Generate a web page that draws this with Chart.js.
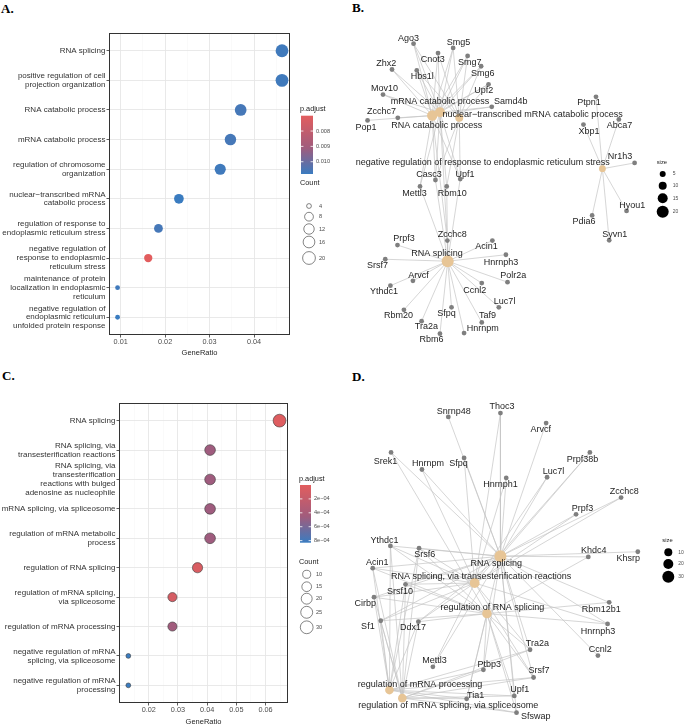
<!DOCTYPE html>
<html><head><meta charset="utf-8">
<script src="https://cdn.jsdelivr.net/npm/chart.js@4.4.1/dist/chart.umd.min.js"></script>
<style>
html,body{margin:0;padding:0;background:#fff}
body{width:685px;height:728px;position:relative;overflow:hidden}
canvas{position:absolute;display:block}
.tag{position:absolute;font:bold 13px "Liberation Serif","DejaVu Serif",serif;color:#000;line-height:13px}
</style></head><body>
<div class="tag" style="left:1px;top:2px">A.</div>
<div class="tag" style="left:352px;top:1px">B.</div>
<div class="tag" style="left:2px;top:369px">C.</div>
<div class="tag" style="left:352px;top:370px">D.</div>
<canvas id="cA" width="340" height="360" style="left:0;top:0"></canvas>
<canvas id="cB" width="345" height="360" style="left:340px;top:0"></canvas>
<canvas id="cC" width="340" height="368" style="left:0;top:360px"></canvas>
<canvas id="cD" width="345" height="368" style="left:340px;top:360px"></canvas>
<script>
// ---------------- Panel A data ----------------
const termsA = [["RNA splicing"],["positive regulation of cell","projection organization"],["RNA catabolic process"],["mRNA catabolic process"],["regulation of chromosome","organization"],["nuclear\u2212transcribed mRNA","catabolic process"],["regulation of response to","endoplasmic reticulum stress"],["negative regulation of","response to endoplasmic","reticulum stress"],["maintenance of protein","localization in endoplasmic","reticulum"],["negative regulation of","endoplasmic reticulum","unfolded protein response"]];
const ratioA = [0.0463,0.0463,0.0370,0.0347,0.0324,0.0231,0.0185,0.0162,0.0093,0.0093];
const countA = [20,20,16,15,14,10,8,7,4,4];
const padjA = [0.0107,0.0107,0.0106,0.0106,0.0107,0.0108,0.0106,0.0070,0.0107,0.0108];
const xTicksA = [0.01,0.02,0.03,0.04];
const xTickLabelsA = ["0.01","0.02","0.03","0.04"];
const padjTicksA = [0.008,0.009,0.010];
const padjTickLabelsA = ["0.008","0.009","0.010"];
const countTicksA = [4,8,12,16,20];

// ---------------- Panel C data ----------------
const termsC = [["RNA splicing"],["RNA splicing, via","transesterification reactions"],["RNA splicing, via","transesterification","reactions with bulged","adenosine as nucleophile"],["mRNA splicing, via spliceosome"],["regulation of mRNA metabolic","process"],["regulation of RNA splicing"],["regulation of mRNA splicing,","via spliceosome"],["regulation of mRNA processing"],["negative regulation of mRNA","splicing, via spliceosome"],["negative regulation of mRNA","processing"]];
const ratioC = [0.0648,0.0410,0.0410,0.0410,0.0410,0.0367,0.0281,0.0281,0.0130,0.0130];
const countC = [30,19,19,19,19,17,13,13,6,6];
const padjC = [0.00003,0.00046,0.00046,0.00046,0.00046,0.00006,0.00009,0.00045,0.00083,0.00083];
const xTicksC = [0.02,0.03,0.04,0.05,0.06];
const xTickLabelsC = ["0.02","0.03","0.04","0.05","0.06"];
const padjTicksC = [0.0002,0.0004,0.0006,0.0008];
const padjTickLabelsC = ["2e\u221204","4e\u221204","6e\u221204","8e\u221204"];
const countTicksC = [10,15,20,25,30];

// ---------------- Panel B network (layout units) ----------------
const geneB = ["Ago3","Cnot3","Smg5","Smg7","Smg6","Zhx2","Hbs1l","Mov10","Upf2","Samd4b","Zcchc7","Pop1","Casc3","Upf1","Mettl3","Rbm10","Ptpn1","Xbp1","Abca7","Nr1h3","Hyou1","Pdia6","Syvn1","Zcchc8","Prpf3","Acin1","Hnrnph3","Srsf7","Polr2a","Arvcf","Ccnl2","Ythdc1","Luc7l","Rbm20","Sfpq","Taf9","Tra2a","Hnrnpm","Rbm6"];
const geneBX = [210,286,333,378,420,143,220,115,443,453,161,67,278,355,230,313,777,738,848,897,872,765,818,315,160,455,497,122,502,208,422,138,475,180,328,422,235,367,292];
const geneBY = [117,146,130,155,187,197,200,275,243,313,347,355,540,537,560,560,282,368,352,487,636,650,727,728,742,728,772,786,857,853,860,868,935,943,935,982,978,1015,1017];
const geneBLabelX = [194,270,350,385,425,125,237,120,428,512,110,62,258,370,213,330,755,755,850,852,890,740,835,330,180,437,482,98,520,225,400,118,493,163,312,440,250,425,266];
const geneBLabelY = [100,166,112,176,209,180,218,256,262,297,329,378,522,522,581,581,298,388,372,468,618,668,710,708,722,746,795,806,837,836,882,887,918,962,955,962,996,1002,1035];
const catB = ["RNA catabolic process","mRNA catabolic process","nuclear\u2212transcribed mRNA catabolic process","negative regulation of response to endoplasmic reticulum stress","RNA splicing"];
const catBCount = [16,15,10,7,20];
const catBX = [268,292,352,797,316];
const catBY = [340,330,347,505,792];
const catBLabelX = [282,292,580,425,283];
const catBLabelY = [370,297,336,487,768];
const membersB = [
 ["Ago3","Cnot3","Smg5","Smg7","Smg6","Zhx2","Hbs1l","Mov10","Upf2","Samd4b","Zcchc7","Pop1","Casc3","Upf1","Mettl3","Zcchc8"],
 ["Ago3","Cnot3","Smg5","Smg7","Smg6","Zhx2","Hbs1l","Mov10","Upf2","Samd4b","Casc3","Upf1","Mettl3","Rbm10","Zcchc8"],
 ["Ago3","Cnot3","Smg5","Smg7","Smg6","Hbs1l","Upf2","Casc3","Upf1","Rbm10"],
 ["Ptpn1","Xbp1","Abca7","Nr1h3","Hyou1","Pdia6","Syvn1"],
 ["Zcchc8","Prpf3","Acin1","Hnrnph3","Srsf7","Polr2a","Arvcf","Ccnl2","Ythdc1","Luc7l","Rbm20","Sfpq","Taf9","Tra2a","Hnrnpm","Rbm6","Casc3","Mettl3","Rbm10","Upf1"]
];
const sizeTicksB = [5,10,15,20];

// ---------------- Panel D network (layout units) ----------------
const geneD = ["Snrnp48","Thoc3","Arvcf","Srek1","Hnrnpm","Sfpq","Prpf38b","Luc7l","Hnrnph1","Zcchc8","Prpf3","Ythdc1","Srsf6","Khdc4","Khsrp","Acin1","Srsf10","Cirbp","Rbm12b1","Sf1","Ddx17","Hnrnph3","Tra2a","Ccnl2","Mettl3","Ptbp3","Srsf7","Upf1","Tia1","Sfswap"];
const geneDX = [318,480,622,140,236,367,758,625,498,855,715,138,227,753,907,83,185,87,818,108,225,813,572,783,270,427,583,523,375,530];
const geneDY = [158,146,177,268,321,285,268,345,347,408,460,558,565,592,576,627,677,717,733,790,793,800,880,898,933,942,966,1023,1032,1075];
const geneDLabelX = [335,485,605,123,255,350,735,645,480,865,735,120,245,770,877,97,168,60,793,68,208,783,595,790,275,445,600,540,403,590];
const geneDLabelY = [140,125,197,297,303,303,290,327,367,390,443,541,586,572,597,608,698,738,756,809,810,822,862,880,913,926,944,1003,1023,1088];
const catD = ["RNA splicing","RNA splicing, via transesterification reactions","regulation of RNA splicing","regulation of mRNA processing","regulation of mRNA splicing, via spliceosome"];
const catDCount = [30,19,17,13,13];
const catDX = [480,400,438,135,175];
const catDY = [590,673,768,1005,1030];
const catDLabelX = [467,420,455,230,318];
const catDLabelY = [612,654,748,987,1053];
const membersD = [
 ["Snrnp48","Thoc3","Arvcf","Srek1","Hnrnpm","Sfpq","Prpf38b","Luc7l","Hnrnph1","Zcchc8","Prpf3","Ythdc1","Srsf6","Khdc4","Khsrp","Acin1","Srsf10","Cirbp","Rbm12b1","Sf1","Ddx17","Hnrnph3","Tra2a","Ccnl2","Mettl3","Ptbp3","Srsf7","Upf1","Tia1","Sfswap"],
 ["Thoc3","Hnrnpm","Sfpq","Prpf38b","Luc7l","Hnrnph1","Zcchc8","Prpf3","Ythdc1","Srsf6","Acin1","Srsf10","Sf1","Ddx17","Hnrnph3","Tra2a","Srsf7","Mettl3","Cirbp"],
 ["Srek1","Ythdc1","Srsf6","Acin1","Srsf10","Cirbp","Rbm12b1","Sf1","Ddx17","Hnrnph3","Tra2a","Ptbp3","Srsf7","Upf1","Tia1","Sfswap","Khdc4"],
 ["Ythdc1","Srsf6","Acin1","Srsf10","Cirbp","Sf1","Ddx17","Tra2a","Ptbp3","Srsf7","Upf1","Tia1","Sfswap"],
 ["Ythdc1","Srsf6","Acin1","Srsf10","Cirbp","Sf1","Ddx17","Tra2a","Ptbp3","Srsf7","Upf1","Tia1","Sfswap"]
];
const sizeTicksD = [10,20,30];

// ---------------- helpers ----------------
const FONT = '"Liberation Sans", Arial, sans-serif';
const RAMP = [[0,[226,93,94]],[0.55,[160,92,125]],[1,[58,124,192]]];
function ramp(t){
  t = Math.max(0, Math.min(1, t));
  for (let i = 1; i < RAMP.length; i++) {
    if (t <= RAMP[i][0]) {
      const a = RAMP[i-1], b = RAMP[i];
      const f = (t - a[0]) / (b[0] - a[0]);
      const c = a[1].map((v,k) => Math.round(v + (b[1][k]-v)*f));
      return `rgb(${c[0]},${c[1]},${c[2]})`;
    }
  }
  return 'rgb(58,124,192)';
}

function makeDot(id, o){
  const n = o.terms.length;
  const cMin = Math.min(...o.counts), cMax = Math.max(...o.counts);
  const rOf = c => (4.8 + 8 * Math.sqrt(Math.max(0,(c - cMin)/(cMax - cMin)))) / 2;
  const colOf = p => ramp((p - o.pMin)/(o.pMax - o.pMin));
  const step = o.xTicks[1] - o.xTicks[0];
  const allTicks = [];
  for (let k = -4; k <= 2*o.xTicks.length + 4; k++) {
    const v = o.xTicks[0] + k*step/2;
    if (v > o.xMin && v < o.xMax) {
      const mi = (k % 2 === 0) ? o.xTicks.findIndex(t => Math.abs(t - v) < 1e-9) : -1;
      allTicks.push({value: v, minor: mi < 0, lab: mi >= 0 ? o.xTickLabels[mi] : ''});
    }
  }
  const legendPlugin = {
    id: 'dotDeco',
    afterDraw(chart){
      const ctx = chart.ctx, a = chart.chartArea, L = o.legend;
      ctx.save();
      ctx.strokeStyle = '#333'; ctx.lineWidth = 1;
      ctx.strokeRect(Math.round(a.left)+0.5, Math.round(a.top)+0.5, Math.round(a.right-a.left)-1, Math.round(a.bottom-a.top)-1);
      // colour bar
      ctx.fillStyle = '#1a1a1a'; ctx.textAlign = 'left'; ctx.textBaseline = 'middle';
      ctx.font = `7.3px ${FONT}`;
      ctx.fillText('p.adjust', L.barX - 1, L.barY - 6.5);
      const g = ctx.createLinearGradient(0, L.barY, 0, L.barY + L.barH);
      for (let s = 0; s <= 20; s++) g.addColorStop(s/20, ramp(s/20));
      ctx.fillStyle = g; ctx.fillRect(L.barX, L.barY, L.barW, L.barH);
      ctx.font = `5.6px ${FONT}`;
      o.pTicks.forEach((p, i) => {
        const y = L.barY + (p - o.pMin)/(o.pMax - o.pMin) * L.barH;
        ctx.strokeStyle = '#fff'; ctx.lineWidth = 0.8;
        ctx.beginPath(); ctx.moveTo(L.barX, y); ctx.lineTo(L.barX + 2.4, y);
        ctx.moveTo(L.barX + L.barW - 2.4, y); ctx.lineTo(L.barX + L.barW, y); ctx.stroke();
        ctx.fillStyle = '#4d4d4d'; ctx.fillText(o.pTickLabels[i], L.barX + L.barW + 3, y);
      });
      // count legend
      ctx.fillStyle = '#1a1a1a'; ctx.font = `7.3px ${FONT}`;
      ctx.fillText('Count', L.barX - 1, L.countY);
      ctx.font = `5.6px ${FONT}`;
      o.countTicks.forEach((c, i) => {
        const y = L.circY[i];
        ctx.beginPath(); ctx.arc(L.circX, y, rOf(c), 0, Math.PI*2);
        ctx.fillStyle = '#fff'; ctx.fill();
        ctx.strokeStyle = '#333'; ctx.lineWidth = 0.6; ctx.stroke();
        ctx.fillStyle = '#4d4d4d'; ctx.fillText(String(c), L.labX, y);
      });
      ctx.restore();
    }
  };
  return new Chart(document.getElementById(id), {
    type: 'scatter',
    data: { datasets: [{
      data: o.ratios.map((r,i) => ({x: r, y: i+1})),
      pointRadius: c => rOf(o.counts[c.dataIndex]),
      pointHoverRadius: c => rOf(o.counts[c.dataIndex]),
      backgroundColor: c => colOf(o.padj[c.dataIndex]),
      borderColor: o.outline ? '#3a3a3a' : (c => colOf(o.padj[c.dataIndex])),
      borderWidth: o.outline ? 0.6 : 0,
      clip: false
    }]},
    options: {
      responsive: false, animation: false, devicePixelRatio: 1,
      layout: { padding: { top: o.area.top, right: o.area.right, left: 0, bottom: 0 } },
      plugins: { legend: {display:false}, tooltip: {enabled:false} },
      events: [],
      scales: {
        x: {
          type: 'linear', min: o.xMin, max: o.xMax,
          afterBuildTicks: s => { s.ticks = allTicks.map(t => ({value: t.value, minor: t.minor})); },
          afterFit: s => { s.height = o.area.xh; },
          ticks: { autoSkip:false, maxRotation:0, padding: 0.5, color:'#4d4d4d', font:{size:7.3, family:FONT},
                   callback: (v, i) => allTicks[i] ? allTicks[i].lab : '' },
          grid: { color: c => (c.tick && c.tick.minor) ? '#f4f4f4' : '#e6e6e6',
                  lineWidth: c => (c.tick && c.tick.minor) ? 0.5 : 0.9,
                  tickLength: 2.5,
                  tickColor: c => (c.tick && c.tick.minor) ? 'rgba(0,0,0,0)' : '#333', tickWidth: 0.8 },
          border: { display: false },
          title: { display: true, text: 'GeneRatio', color:'#262626', font:{size:7.5, family:FONT, lineHeight:1.2}, padding:{top:0, bottom:o.area.titlePad} }
        },
        y: {
          type: 'linear', reverse: true, min: 0.4, max: n + 0.6,
          afterBuildTicks: s => { s.ticks = o.terms.map((t,i) => ({value: i+1})); },
          afterFit: s => { s.width = o.area.left; },
          ticks: { autoSkip:false, padding: 1, color:'#333', font:{size:8, family:FONT, lineHeight:1.1},
                   callback: v => o.terms[Math.round(v)-1] },
          grid: { color:'#e6e6e6', lineWidth:0.9, tickLength:2.5, tickColor:'#333', tickWidth:0.8 },
          border: { display: false }
        }
      }
    },
    plugins: [legendPlugin]
  });
}

function makeNet(id, o){
  const datasets = [];
  o.members.forEach((list, ci) => {
    list.forEach(g => {
      const gi = o.genes.indexOf(g);
      if (gi < 0) return;
      datasets.push({ data: [{x:o.gx[gi], y:o.gy[gi]}, {x:o.cx[ci], y:o.cy[ci]}],
        showLine: true, pointRadius: 0, borderColor: '#c4c4c4', borderWidth: 0.7, order: 5, clip: false });
    });
  });
  datasets.push({ data: o.genes.map((g,i) => ({x:o.gx[i], y:o.gy[i]})), pointRadius: 2.4, pointHoverRadius: 2.4,
    backgroundColor: '#7f7f7f', borderWidth: 0, order: 1, clip: false });
  datasets.push({ data: o.cats.map((c,i) => ({x:o.cx[i], y:o.cy[i]})),
    pointRadius: c => o.rOf(o.catCount[c.dataIndex]), pointHoverRadius: c => o.rOf(o.catCount[c.dataIndex]),
    backgroundColor: '#e7c596', borderWidth: 0, order: 0, clip: false });
  const labels = {
    id: 'netLabels',
    afterDatasetsDraw(chart){
      const ctx = chart.ctx, xs = chart.scales.x, ys = chart.scales.y;
      ctx.save();
      ctx.textAlign = 'center'; ctx.textBaseline = 'middle';
      ctx.font = `9px ${FONT}`; ctx.fillStyle = '#1e1e1e';
      o.genes.forEach((g,i) => ctx.fillText(g, xs.getPixelForValue(o.glx[i]), ys.getPixelForValue(o.gly[i])));
      o.cats.forEach((c,i) => ctx.fillText(c, xs.getPixelForValue(o.clx[i]), ys.getPixelForValue(o.cly[i])));
      // size legend
      const L = o.legend;
      ctx.textAlign = 'left';
      ctx.font = `5.8px ${FONT}`; ctx.fillStyle = '#1a1a1a';
      ctx.fillText('size', L.x - 6, L.titleY);
      ctx.font = `5px ${FONT}`;
      o.sizeTicks.forEach((s, i) => {
        ctx.beginPath(); ctx.arc(L.x, L.ys[i], o.rOf(s), 0, Math.PI*2); ctx.fillStyle = '#000'; ctx.fill();
        ctx.fillStyle = '#4d4d4d'; ctx.fillText(String(s), L.x + 10, L.ys[i]);
      });
      ctx.restore();
    }
  };
  return new Chart(document.getElementById(id), {
    type: 'scatter',
    data: { datasets },
    options: {
      responsive: false, animation: false, devicePixelRatio: 1, events: [],
      layout: { padding: 0 },
      plugins: { legend: {display:false}, tooltip: {enabled:false} },
      scales: {
        x: { type:'linear', display:false, min:0, max:o.xMax },
        y: { type:'linear', display:false, min:0, max:o.yMax, reverse:true }
      }
    },
    plugins: [labels]
  });
}

makeDot('cA', {
  terms: termsA, ratios: ratioA, counts: countA, padj: padjA,
  xTicks: xTicksA, xTickLabels: xTickLabelsA, xMin: 0.00737, xMax: 0.0481,
  pMin: 0.0070, pMax: 0.0108, pTicks: padjTicksA, pTickLabels: padjTickLabelsA, countTicks: countTicksA,
  outline: false,
  area: { top: 33, right: 50, left: 109, xh: 25, titlePad: 3 },
  legend: { barX: 301, barY: 115.7, barW: 12, barH: 58.3, countY: 183, circX: 309, circY: [206,216.7,229,242,258], labX: 319 }
});
makeDot('cC', {
  terms: termsC, ratios: ratioC, counts: countC, padj: padjC,
  xTicks: xTicksC, xTickLabels: xTickLabelsC, xMin: 0.0098, xMax: 0.0677,
  pMin: 0.0000, pMax: 0.00083, pTicks: padjTicksC, pTickLabels: padjTickLabelsC, countTicks: countTicksC,
  outline: true,
  area: { top: 43, right: 52, left: 119, xh: 25, titlePad: 2 },
  legend: { barX: 300, barY: 125, barW: 11, barH: 57.7, countY: 201.7, circX: 306.7, circY: [214.3,226.7,238.7,252.3,267.3], labX: 316 }
});
makeNet('cB', {
  genes: geneB, gx: geneBX, gy: geneBY, glx: geneBLabelX, gly: geneBLabelY,
  cats: catB, catCount: catBCount, cx: catBX, cy: catBY, clx: catBLabelX, cly: catBLabelY,
  members: membersB, xMax: 1035, yMax: 1080, rOf: c => 2 + c/5, sizeTicks: sizeTicksB,
  legend: { x: 322.7, titleY: 162.3, ys: [174,185.7,198.3,211.7] }
});
makeNet('cD', {
  genes: geneD, gx: geneDX, gy: geneDY, glx: geneDLabelX, gly: geneDLabelY,
  cats: catD, catCount: catDCount, cx: catDX, cy: catDY, clx: catDLabelX, cly: catDLabelY,
  members: membersD, xMax: 1035, yMax: 1104, rOf: c => 3 + c/10, sizeTicks: sizeTicksD,
  legend: { x: 328.3, titleY: 180, ys: [192.3,204,216.7] }
});
</script>
</body></html>
